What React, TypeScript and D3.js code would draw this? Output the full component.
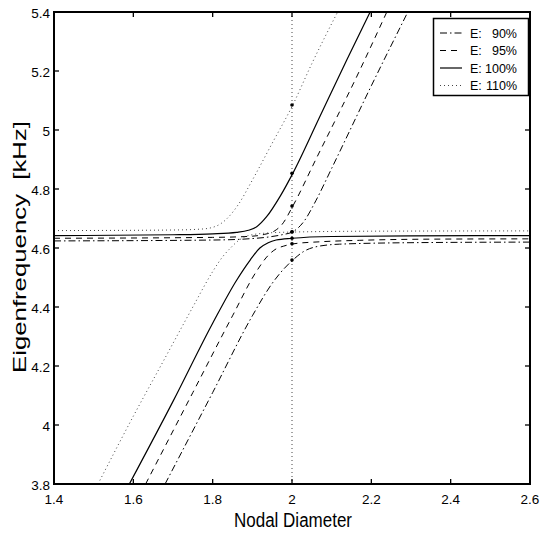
import React from "react";
import * as d3 from "d3";

// ---- data ----
const xTicks = [1.4, 1.6, 1.8, 2.0, 2.2, 2.4, 2.6];
const yTicks = [3.8, 4.0, 4.2, 4.4, 4.6, 4.8, 5.0, 5.2, 5.4];
const legendLabels = ["90%", "95%", "100%", "110%"];

// E = 90 % (dash-dot)
const e90Lower: [number, number][] = [[1.680,3.80],[1.80,4.11],[1.90,4.37],[1.95,4.48],[1.98,4.53],[2.002,4.559],[2.028,4.587],[2.06,4.604],[2.12,4.613],[2.30,4.618],[2.60,4.620]];
const e90Upper: [number, number][] = [[1.40,4.624],[1.80,4.627],[1.90,4.632],[1.945,4.638],[1.975,4.645],[2.002,4.655],[2.03,4.690],[2.06,4.76],[2.10,4.87],[2.20,5.15],[2.292,5.40]];
// E = 95 % (dashed)
const e95Lower: [number, number][] = [[1.631,3.80],[1.75,4.11],[1.85,4.37],[1.91,4.52],[1.94,4.575],[1.96,4.597],[1.978,4.606],[2.003,4.614],[2.07,4.621],[2.17,4.626],[2.35,4.630],[2.60,4.631]];
const e95Upper: [number, number][] = [[1.40,4.633],[1.80,4.636],[1.90,4.640],[1.93,4.646],[1.955,4.657],[1.975,4.680],[2.002,4.742],[2.06,4.90],[2.171,5.203],[2.239,5.40]];
// E = 100 % (solid)
const e100Lower: [number, number][] = [[1.590,3.80],[1.70,4.08],[1.80,4.345],[1.86,4.49],[1.895,4.56],[1.919,4.600],[1.94,4.618],[1.96,4.627],[2.00,4.633],[2.10,4.639],[2.30,4.641],[2.60,4.642]];
const e100Upper: [number, number][] = [[1.40,4.642],[1.70,4.645],[1.80,4.648],[1.86,4.653],[1.89,4.660],[1.911,4.672],[1.936,4.706],[1.97,4.775],[2.002,4.853],[2.07,5.045],[2.138,5.237],[2.197,5.40]];
// E = 110 % (dotted)
const e110Lower: [number, number][] = [[1.511,3.80],[1.60,4.03],[1.673,4.21],[1.75,4.40],[1.80,4.52],[1.825,4.57],[1.845,4.60],[1.865,4.625],[1.89,4.642],[1.94,4.651],[2.00,4.654],[2.20,4.657],[2.60,4.658]];
const e110Upper: [number, number][] = [[1.40,4.659],[1.70,4.661],[1.77,4.664],[1.80,4.670],[1.82,4.682],[1.84,4.705],[1.865,4.748],[1.90,4.83],[1.95,4.955],[2.002,5.085],[2.05,5.225],[2.115,5.40]];

const markerN = [2, 2, 2, 2, 2, 2, 2, 2];
const markerF = [5.085, 4.853, 4.742, 4.655, 4.654, 4.633, 4.614, 4.559];
const verticalN = 2;

// ---- layout ----
const W = 549, H = 535;
const L = 54, R = 530, T = 12, B = 484;
const FONT = "'Liberation Sans', Arial, Helvetica, sans-serif";

const styles = [
  { dash: "7,3,1.5,3", width: 1 },   // 90%
  { dash: "6,5", width: 1 },         // 95%
  { dash: null, width: 1.2 },        // 100%
  { dash: "1,3", width: 1 },         // 110%
];

export default function App() {
  const x = d3.scaleLinear().domain([1.4, 2.6]).range([L, R]);
  const y = d3.scaleLinear().domain([3.8, 5.4]).range([B, T]);
  const line = d3.line<[number, number]>()
    .x((d) => x(d[0]))
    .y((d) => y(d[1]))
    .curve(d3.curveMonotoneX);

  const series = [
    { branches: [e90Lower, e90Upper], s: styles[0] },
    { branches: [e95Lower, e95Upper], s: styles[1] },
    { branches: [e100Lower, e100Upper], s: styles[2] },
    { branches: [e110Lower, e110Upper], s: styles[3] },
  ];

  const legendRows = [33, 50.5, 68, 85.5];

  return (
    <svg width={W} height={H} style={{ position: "absolute", left: 0, top: 0, background: "#fff" }}>
      <defs>
        <clipPath id="plot">
          <rect x={L} y={T} width={R - L} height={B - T} />
        </clipPath>
      </defs>
      <rect x={0} y={0} width={W} height={H} fill="#fff" />
      <g clipPath="url(#plot)">
        <line x1={x(verticalN)} x2={x(verticalN)} y1={T} y2={B} stroke="#444" strokeWidth={1} strokeDasharray="1,3" />
        {series.map((sr, i) =>
          sr.branches.map((b, j) => (
            <path key={`${i}-${j}`} d={line(b) || ""} fill="none" stroke={sr.s.dash === "1,3" ? "#444" : "#000"}
              strokeWidth={sr.s.width} strokeDasharray={sr.s.dash || undefined} />
          ))
        )}
        {markerF.map((f, i) => (
          <circle key={i} cx={x(markerN[i])} cy={y(f)} r={1.8} fill="#000" />
        ))}
      </g>
      {/* frame */}
      <rect x={L} y={T} width={R - L} height={B - T} fill="none" stroke="#000" strokeWidth={2} />
      {/* ticks */}
      {xTicks.map((t) => (
        <g key={`xt${t}`}>
          <line x1={x(t)} x2={x(t)} y1={B} y2={B - 5} stroke="#000" strokeWidth={1.3} />
          <line x1={x(t)} x2={x(t)} y1={T} y2={T + 5} stroke="#000" strokeWidth={1.3} />
          <text x={x(t)} y={504} textAnchor="middle" fontFamily={FONT} fontSize={13.5}>{d3.format("~g")(t)}</text>
        </g>
      ))}
      {yTicks.map((t) => (
        <g key={`yt${t}`}>
          <line x1={L} x2={L + 5} y1={y(t)} y2={y(t)} stroke="#000" strokeWidth={1.3} />
          <line x1={R} x2={R - 5} y1={y(t)} y2={y(t)} stroke="#000" strokeWidth={1.3} />
          <text x={50} y={y(t) + 5.5} textAnchor="end" fontFamily={FONT} fontSize={13.5}>{d3.format("~g")(t)}</text>
        </g>
      ))}
      {/* axis titles */}
      <text x={293} y={527} textAnchor="middle" fontFamily={FONT} fontSize={20} textLength={118} lengthAdjust="spacingAndGlyphs">Nodal Diameter</text>
      <text transform={`translate(26,247) rotate(-90)`} textAnchor="middle" fontFamily={FONT} fontSize={18.5} textLength={252} lengthAdjust="spacingAndGlyphs" style={{ whiteSpace: "pre" }}>Eigenfrequency  [kHz]</text>
      {/* legend */}
      <rect x={433.5} y={18.5} width={95} height={77} fill="#fff" stroke="#000" strokeWidth={1.5} />
      {legendLabels.map((lab, i) => (
        <g key={lab}>
          <line x1={440} x2={462} y1={legendRows[i]} y2={legendRows[i]} stroke={styles[i].dash === "1,3" ? "#444" : "#000"}
            strokeWidth={styles[i].width} strokeDasharray={styles[i].dash || undefined} />
          <text x={470} y={legendRows[i] + 4.5} fontFamily={FONT} fontSize={12.5}>E:</text>
          <text x={517} y={legendRows[i] + 4.5} textAnchor="end" fontFamily={FONT} fontSize={12.5}>{lab}</text>
        </g>
      ))}
    </svg>
  );
}
